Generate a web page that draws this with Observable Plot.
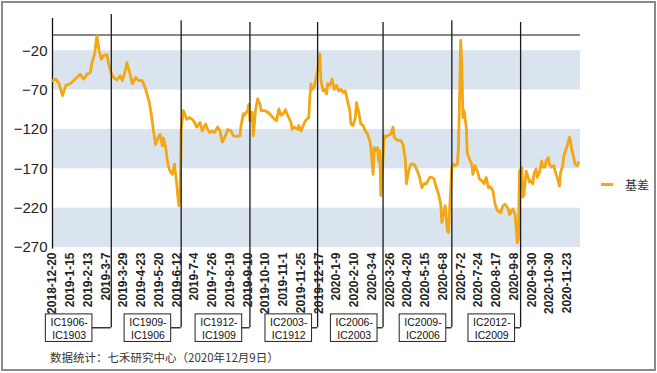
<!DOCTYPE html>
<html><head><meta charset="utf-8">
<script src="https://cdn.jsdelivr.net/npm/d3@7"></script>
<script src="https://cdn.jsdelivr.net/npm/@observablehq/plot@0.6"></script>
<style>
body{margin:0;background:#fff;}
#wrap{position:relative;width:657px;height:373px;overflow:hidden;font-family:"Liberation Sans",Arial,sans-serif;}
#frame{position:absolute;left:1px;top:1px;width:651px;height:366px;border:2px solid #8a8a8a;pointer-events:none;}
#legend{position:absolute;left:601px;top:176px;font-size:12px;color:#333;display:flex;align-items:center;font-family:"Noto Sans CJK SC",sans-serif;}
#legend .sw{display:inline-block;width:12px;height:3px;background:#f3a712;margin-right:12px;}
#source{position:absolute;left:50px;top:349px;font-size:11.5px;color:#333;font-family:"Noto Sans CJK SC",sans-serif;white-space:nowrap;}
svg{position:absolute;left:0;top:0;overflow:visible;}
</style></head>
<body>
<div id="wrap"></div>
<script>
// ---- data ----
const tickLabels = ["2018-12-20","2019-1-15","2019-2-13","2019-3-7","2019-3-29","2019-4-23","2019-5-20","2019-6-12","2019-7-4","2019-7-26","2019-8-19","2019-9-10","2019-10-10","2019-11-1","2019-11-25","2019-12-17","2020-1-9","2020-2-10","2020-3-4","2020-3-26","2020-4-20","2020-5-15","2020-6-8","2020-7-2","2020-7-24","2020-8-17","2020-9-8","2020-9-30","2020-10-30","2020-11-23"];
const tickStep = 16; // trading days between labels
const nDays = 477;
const day = [0,3,6,9,12,16,19,22,25,28,31,34,36,38,40,42,44,46,49,51,53,55,58,61,63,66,67,70,72,75,78,81,84,87,89,91,93,95,97,99,100,102,104,106,108,110,112,113,114,115,116,118,121,123,126,128,130,133,135,138,140,142,144,146,149,151,153,155,158,161,163,166,169,170,172,173,176,177,178,180,181,183,185,187,188,191,194,197,200,202,204,206,208,210,212,215,216,218,221,222,224,226,228,231,232,233,234,236,239,241,242,244,245,247,248,250,252,254,256,258,260,262,264,266,268,269,271,273,274,276,278,280,282,284,286,287,289,290,291,293,294,295,296,298,299,300,302,305,307,308,311,314,316,317,318,319,321,323,326,329,331,333,335,337,340,342,344,346,348,350,351,353,354,356,357,358,360,361,363,365,366,367,368,369,370,371,373,374,376,378,379,381,383,385,387,389,391,393,395,397,399,401,404,406,408,411,412,414,415,417,418,419,420,421,423,424,425,427,428,430,431,433,434,436,437,439,441,442,444,445,447,448,450,452,453,455,457,458,460,461,462,464,466,467,468,470,471,473,474];
const basis = [-58,-56,-62,-77,-64,-62,-58,-54,-50,-56,-50,-48,-33,-24,-1,-20,-31,-26,-25,-39,-48,-54,-57,-52,-58,-43,-35,-50,-62,-54,-58,-58,-69,-84,-100,-122,-139,-131,-126,-141,-131,-143,-164,-173,-177,-164,-189,-206,-217,-205,-120,-96,-107,-105,-107,-111,-117,-111,-122,-113,-120,-124,-122,-124,-117,-122,-136,-131,-120,-122,-128,-129,-128,-115,-100,-102,-96,-88,-109,-98,-128,-96,-81,-88,-96,-96,-98,-102,-107,-109,-94,-102,-100,-95,-102,-111,-120,-117,-120,-115,-122,-115,-109,-105,-79,-62,-69,-66,-45,-24,-58,-71,-69,-75,-62,-64,-56,-69,-64,-71,-69,-73,-71,-84,-96,-113,-115,-105,-86,-98,-113,-115,-122,-126,-134,-143,-177,-143,-147,-143,-160,-147,-204,-156,-128,-130,-128,-126,-117,-130,-134,-134,-139,-149,-156,-189,-173,-164,-164,-173,-181,-194,-189,-189,-181,-181,-183,-194,-202,-215,-238,-223,-217,-249,-251,-223,-168,-164,-166,-164,-143,-79,-7,-37,-105,-96,-117,-151,-158,-164,-177,-166,-173,-183,-185,-189,-181,-194,-193,-198,-215,-223,-226,-217,-215,-221,-228,-223,-221,-228,-245,-264,-258,-173,-168,-206,-202,-173,-177,-187,-185,-189,-177,-170,-181,-175,-160,-168,-168,-160,-156,-164,-168,-166,-173,-181,-192,-175,-166,-153,-149,-141,-130,-134,-145,-156,-164,-166,-162];
const rollDay = [53,116,178,239,298,360,422];
const rollName = [["IC1906-","IC1903"],["IC1909-","IC1906"],["IC1912-","IC1909"],["IC2003-","IC1912"],["IC2006-","IC2003"],["IC2009-","IC2006"],["IC2012-","IC2009"]];
const labelDay = [15,86,150,213,272,334,396];
const bands = [[-20,-70],[-120,-170],[-220,-270]];
const yTicks = [-20,-70,-120,-170,-220,-270];
const seriesName = "基差";
const sourceText = "数据统计：七禾研究中心（2020年12月9日）";

// ---- layout (annotation levels in axis units) ----
const rollTop = [26,18,16,16,16,18,16];
const connY = -372, boxTop = -355, boxBot = -390, boxHalf = 21;
const lineColor = "#f3a712";

const series = day.map((d, i) => ({d, v: basis[i]}));
const rolls = rollDay.map((d, i) => ({d, top: rollTop[i], c: labelDay[i], name: rollName[i].join("\n")}));

const chart = Plot.plot({
  width: 657, height: 373,
  marginLeft: 52, marginRight: 77, marginTop: 34.5, marginBottom: 126,
  style: {background: "transparent", fontFamily: "'Liberation Sans', Arial, sans-serif", color: "#222"},
  x: {domain: [0, nDays - 1]},
  y: {domain: [-270, 0]},
  marks: [
    Plot.rect(bands, {x1: () => 0, x2: () => nDays - 1, y1: d => d[0], y2: d => d[1], fill: "#d9e4ef"}),
    Plot.ruleY([0], {x1: () => 0, x2: () => nDays - 1, stroke: "#111", strokeWidth: 1.2}),
    Plot.ruleX([0], {y1: () => -272, y2: () => 21, stroke: "#111", strokeWidth: 1.3}),
    Plot.line(series, {x: "d", y: "v", stroke: lineColor, strokeWidth: 2.8, strokeLinejoin: "round"}),
    Plot.ruleX(rolls, {x: "d", y1: () => connY, y2: "top", stroke: "#1a1a1a", strokeWidth: 1.3}),
    Plot.ruleY(rolls, {y: () => connY, x1: d => d.c + boxHalf, x2: "d", stroke: "#1a1a1a", strokeWidth: 1.3}),
    Plot.rect(rolls, {x1: d => d.c - boxHalf, x2: d => d.c + boxHalf, y1: () => boxBot, y2: () => boxTop, fill: "white", stroke: "#222", strokeWidth: 1}),
    Plot.text(rolls, {x: "c", y: () => connY - 1, text: "name", fontSize: 10.5, lineHeight: 1.2, fill: "#111"}),
    Plot.axisY(yTicks, {tickSize: 0, tickPadding: 5, fontSize: 15, fill: "#222"}),
    Plot.axisX(d3.range(0, tickLabels.length * tickStep, tickStep), {tickSize: 0, tickPadding: 5, tickRotate: -90, fontSize: 12, fontWeight: "bold", fill: "#222", tickFormat: d => tickLabels[d / tickStep]})
  ]
});

const wrap = document.getElementById("wrap");
wrap.appendChild(chart);
const lg = document.createElement("div");
lg.id = "legend";
lg.innerHTML = `<span class="sw"></span><span>${seriesName}</span>`;
wrap.appendChild(lg);
const src = document.createElement("div");
src.id = "source";
src.textContent = sourceText;
wrap.appendChild(src);
const fr = document.createElement("div");
fr.id = "frame";
wrap.appendChild(fr);
</script>
</body></html>
